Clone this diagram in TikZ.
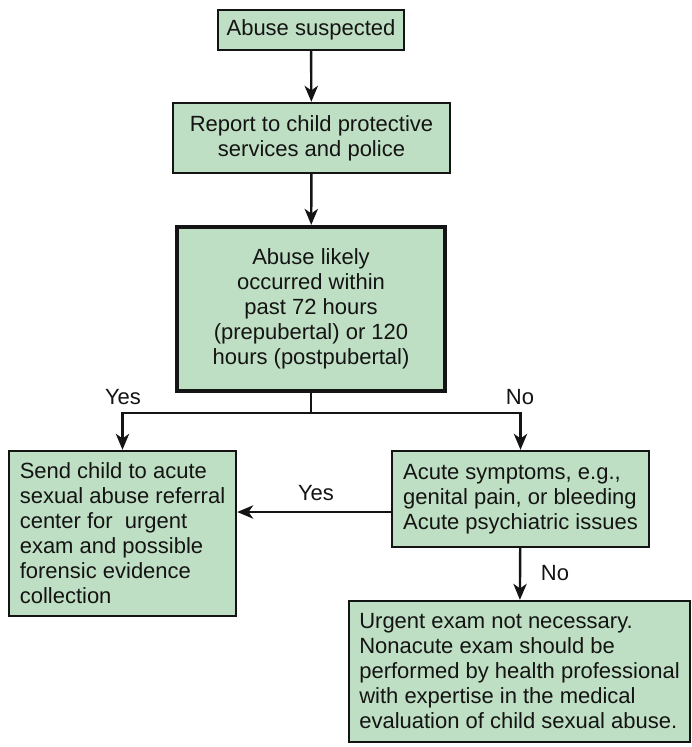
\documentclass[tikz,border=0pt]{standalone}
\usepackage{fontspec}
\setmainfont{Liberation Sans}
\usetikzlibrary{arrows.meta}
\definecolor{boxgreen}{RGB}{190,223,195}
\definecolor{ink}{RGB}{20,20,20}
\begin{document}
\begin{tikzpicture}[x=0.75pt,y=-0.75pt,
  box/.style={draw=ink, fill=boxgreen, line width=1.8pt, inner sep=0pt,
    font=\fontsize{16.5}{18.75}\selectfont, text=ink},
  lbl/.style={font=\fontsize{16.5}{18.75}\selectfont, text=ink, inner sep=0pt},
  arr/.style={draw=ink, line width=1.8pt, -{Stealth[length=12pt,width=10pt,inset=3.5pt]}},
  ln/.style={draw=ink, line width=1.8pt}]
\useasboundingbox (0,0) rectangle (692,747);
\fill[white] (0,0) rectangle (692,747);

\node[box, minimum width=186*0.75pt, minimum height=40*0.75pt] (b1) at (311,30) {Abuse suspected};
\node[box, minimum width=277*0.75pt, minimum height=70*0.75pt, align=center] (b2) at (311.5,138)
  {Report to child protective\\services and police};
\node[box, line width=3.2pt, minimum width=268*0.75pt, minimum height=164*0.75pt, align=center] (b3) at (311,309)
  {Abuse likely\\occurred within\\past 72 hours\\(prepubertal) or 120\\hours (postpubertal)};
\node[box, minimum width=227*0.75pt, minimum height=165*0.75pt, align=left] (yes) at (122.5,533.5)
  {Send child to acute\\sexual abuse referral\\center for\ \ urgent\\exam and possible\\forensic evidence\\collection};
\node[box, minimum width=257*0.75pt, minimum height=96*0.75pt, align=left] (acute) at (520.5,499)
  {Acute symptoms, e.g.,\\genital pain, or bleeding\\Acute psychiatric issues};
\node[box, minimum width=341*0.75pt, minimum height=141*0.75pt, align=left] (non) at (519.5,671.5)
  {Urgent exam not necessary.\\Nonacute exam should be\\performed by health professional\\with expertise in the medical\\evaluation of child sexual abuse.};

\coordinate (split) at (311,413);
\coordinate (sl) at (122.5,413);
\coordinate (sr) at (520.5,413);

\draw[arr] (b1) -- (b2);
\draw[arr] (b2) -- (b3);
\draw[ln] (b3.south) -- (split);
\draw[arr] (split) -- (sl) -- (yes.north);
\draw[arr] (split) -- (sr) -- (acute.north);
\draw[arr] (acute.west |- 0,512) -- (yes.east |- 0,512);
\draw[arr] (acute) -- (non);

\node[lbl] (lyes1) at (123,397) {Yes};
\node[lbl] (lno1) at (520,397) {No};
\node[lbl] (lyes2) at (316,493) {Yes};
\node[lbl] (lno2) at (555,573) {No};
\end{tikzpicture}
\end{document}
